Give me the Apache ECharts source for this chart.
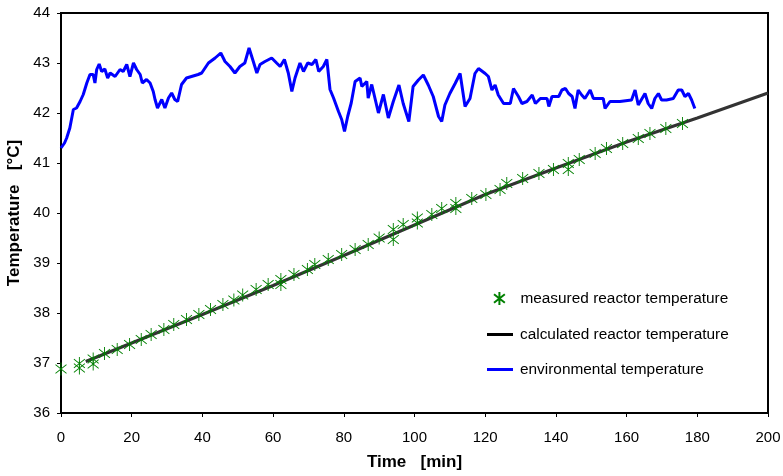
<!DOCTYPE html>
<html><head><meta charset="utf-8">
<script src="https://cdn.jsdelivr.net/npm/echarts@6/dist/echarts.min.js"></script>
<style>html,body{margin:0;padding:0;background:#fff}#c{width:783px;height:476px}</style>
</head><body><div id="c"></div>
<script>
// X axis ticks and Y axis ticks
var xTicks = [0,20,40,60,80,100,120,140,160,180,200];
var yTicks = [36,37,38,39,40,41,42,43,44];

// measured reactor temperature
var measTime = [0,5.2,5.2,9.1,9.1,12.3,15.9,19.4,22.7,25.5,29.1,31.9,35.5,39.0,42.3,45.8,48.9,51.4,55.2,58.6,62.2,62.2,65.9,69.7,71.8,75.6,79.4,83.2,86.9,90.0,94.0,94.0,96.8,100.8,100.8,104.9,107.7,111.7,111.7,116.2,120.2,124.2,126.1,130.6,135.2,139.3,143.5,143.5,146.6,151.1,154.3,158.9,163.3,166.6,171.1,175.8];
var measTemp = [36.88,36.99,36.9,37.08,36.98,37.19,37.27,37.37,37.47,37.57,37.67,37.77,37.87,37.97,38.07,38.17,38.26,38.36,38.47,38.57,38.67,38.57,38.77,38.87,38.97,39.07,39.17,39.27,39.37,39.5,39.67,39.47,39.77,39.9,39.8,39.97,40.09,40.19,40.09,40.29,40.37,40.47,40.59,40.69,40.79,40.87,40.99,40.87,41.07,41.19,41.29,41.39,41.49,41.59,41.69,41.79];

// calculated reactor temperature
var calcTime = [7,20,40,60,80,100,120,140,160,180,200];
var calcTemp = [37.03,37.4,37.97,38.55,39.15,39.76,40.37,40.9,41.42,41.9,42.4];

// environmental temperature
var envTime = [0,1.0,1.6,2.5,3.5,4.4,5.4,6.3,7.3,8.2,9.1,9.6,10.1,10.8,11.5,12.4,13.2,13.9,15.3,16.7,17.6,18.6,19.5,20.5,21.4,22.4,23.0,24.2,25.2,26.1,26.6,27.3,28.5,29.4,30.4,31.3,32.2,33.0,34.1,35.5,38.8,39.8,41.7,43.6,45.2,46.4,47.8,49.2,50.6,52.0,53.2,54.4,55.4,56.3,57.7,59.6,61.0,62.0,63.2,64.3,65.3,66.2,67.6,68.6,69.8,71.0,72.1,72.9,74.2,75.2,76.1,77.1,78.5,79.4,80.2,81.1,82.1,83.2,84.6,85.1,86.5,86.9,87.9,89.8,91.2,92.6,94.0,95.6,96.8,98.4,99.6,101.1,102.5,103.9,105.3,106.8,107.7,108.6,110.0,111.5,112.9,114.3,115.7,117.1,118.1,120.0,120.9,121.9,122.8,123.7,125.2,127.1,128.0,129.4,130.4,131.8,133.3,134.2,135.6,137.5,138.0,138.9,140.8,141.7,142.7,143.6,144.6,145.4,146.3,147.3,148.2,149.7,150.6,153.4,153.9,155.3,158.1,161.4,162.4,163.3,165.2,166.1,167.1,168.0,169.0,169.9,171.3,173.2,174.6,175.6,176.5,177.5,178.4,179.3];
var envTemp = [41.3,41.4,41.5,41.7,42.07,42.1,42.23,42.37,42.6,42.77,42.77,42.6,42.87,42.98,42.83,42.88,42.7,42.8,42.73,42.87,42.83,42.97,42.73,43.0,42.87,42.77,42.6,42.67,42.6,42.43,42.27,42.1,42.27,42.1,42.3,42.4,42.27,42.23,42.57,42.7,42.77,42.8,43.0,43.1,43.2,43.03,42.93,42.8,42.93,43.0,43.3,43.03,42.8,42.97,43.03,43.1,43.0,42.93,43.07,42.8,42.43,42.7,43.0,42.83,43.0,42.97,43.07,42.83,42.93,43.07,42.47,42.3,42.03,41.87,41.63,41.93,42.2,42.63,42.7,42.53,42.63,42.3,42.57,42.0,42.37,41.9,42.23,42.56,42.19,41.83,42.53,42.66,42.76,42.56,42.33,41.93,41.83,42.16,42.39,42.59,42.79,42.13,42.29,42.79,42.89,42.79,42.73,42.46,42.56,42.36,42.19,42.19,42.49,42.33,42.19,42.23,42.36,42.19,42.29,42.29,42.13,42.33,42.33,42.46,42.49,42.39,42.33,42.09,42.46,42.36,42.29,42.46,42.29,42.29,42.09,42.23,42.23,42.26,42.46,42.16,42.39,42.19,42.09,42.29,42.39,42.26,42.26,42.29,42.46,42.46,42.33,42.39,42.26,42.09];

var names = ['measured reactor temperature','calculated reactor temperature','environmental temperature'];

function zip(a,b){return a.map(function(v,i){return [v,b[i]];});}
var FONT = '"Liberation Sans", Arial, sans-serif';
var STAR = 'path://M5,0L5,12M0,2L10,10M0,10L10,2';
var LEG_TXT = {fontFamily:FONT, fontSize:15.4, color:'#000'};

var chart = echarts.init(document.getElementById('c'), null, {renderer:'canvas'});
var legendBase = {orient:'vertical', itemGap:0, padding:0, selectedMode:false};
chart.setOption({
  animation:false,
  backgroundColor:'#fff',
  grid:{left:61, right:15, top:13, bottom:63, outerBoundsMode:'none', containLabel:false,
    show:true, borderColor:'#000', borderWidth:2, backgroundColor:'transparent'},
  legend:[
    Object.assign({}, legendBase, {left:493, top:291, itemWidth:12, itemHeight:13,
      data:[{name:names[0], icon:STAR}], textStyle:Object.assign({padding:[0,0,0,10]}, LEG_TXT)}),
    Object.assign({}, legendBase, {left:487, top:327, itemWidth:26, itemHeight:3,
      data:[{name:names[1], icon:'rect'}], textStyle:Object.assign({padding:[0,0,0,2]}, LEG_TXT)}),
    Object.assign({}, legendBase, {left:487, top:362, itemWidth:26, itemHeight:3,
      data:[{name:names[2], icon:'rect'}], textStyle:Object.assign({padding:[0,0,0,2]}, LEG_TXT)})
  ],
  xAxis:{type:'value', min:xTicks[0], max:xTicks[xTicks.length-1], interval:20,
    name:'Time   [min]', nameLocation:'middle', nameGap:41,
    nameTextStyle:{fontFamily:FONT, fontSize:17, fontWeight:'bold', color:'#000'},
    axisLine:{show:true, lineStyle:{color:'#000', width:2}},
    axisTick:{show:true, length:4, lineStyle:{color:'#000', width:1}},
    axisLabel:{fontFamily:FONT, fontSize:15, color:'#000', margin:17},
    splitLine:{show:false}},
  yAxis:{type:'value', min:yTicks[0], max:yTicks[yTicks.length-1], interval:1,
    name:'Temperature   [°C]', nameLocation:'middle', nameGap:37,
    nameTextStyle:{fontFamily:FONT, fontSize:17, fontWeight:'bold', color:'#000'},
    axisLine:{show:true, lineStyle:{color:'#000', width:2}},
    axisTick:{show:true, length:4, lineStyle:{color:'#000', width:1}},
    axisLabel:{fontFamily:FONT, fontSize:15, color:'#000', margin:11},
    splitLine:{show:false}},
  series:[
    {name:names[1], type:'line', data:zip(calcTime, calcTemp), showSymbol:false, symbol:'none',
      lineStyle:{color:'#333333', width:3}, itemStyle:{color:'#000'}, z:2},
    {name:names[2], type:'line', data:zip(envTime, envTemp), showSymbol:false, symbol:'none',
      lineStyle:{color:'#0000ff', width:3}, itemStyle:{color:'#0000ff'}, z:2},
    {name:names[0], type:'scatter', data:zip(measTime, measTemp), symbol:STAR, symbolSize:[11,13],
      itemStyle:{color:'#008000', borderColor:'#008000', borderWidth:1, opacity:1}, z:3}
  ]
});
</script></body></html>
